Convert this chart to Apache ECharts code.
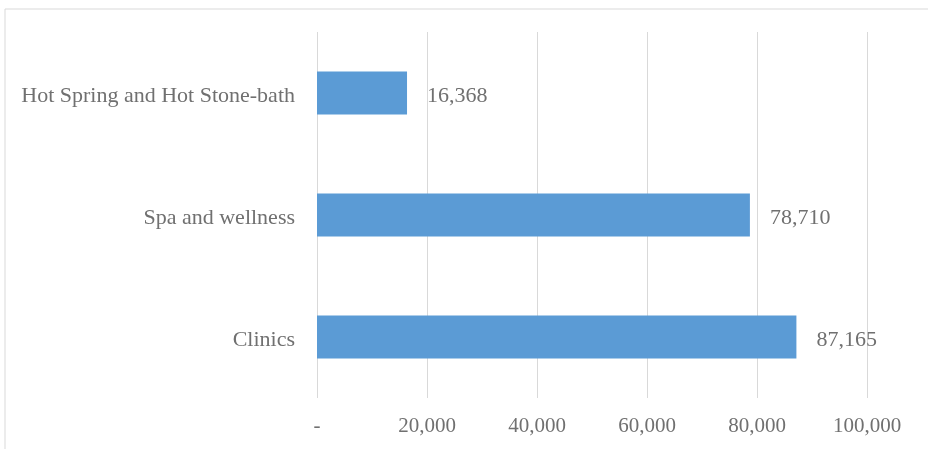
<!DOCTYPE html>
<html><head><meta charset="utf-8">
<script src="https://cdn.jsdelivr.net/npm/echarts@6/dist/echarts.min.js"></script>
<style>html,body{margin:0;padding:0;background:#fff}#c{width:928px;height:449px}</style>
</head><body><div id="c"></div>
<script>
const categories = ['Clinics', 'Spa and wellness', 'Hot Spring and Hot Stone-bath'];
const values = [87165, 78710, 16368];
const xTicks = { min: 0, max: 100000, interval: 20000 };

const font = '"Liberation Serif", "Times New Roman", serif';
const textColor = '#707070';
const chart = echarts.init(document.getElementById('c'), null, { renderer: 'canvas' });
chart.setOption({
  animation: false,
  graphic: [{ type: 'rect', shape: { x: 5, y: 9, width: 940, height: 460 }, style: { fill: 'none', stroke: '#d9d9d9', lineWidth: 1 }, z: -1 }],
  grid: { left: 317, right: 61, top: 32, bottom: 51 },
  xAxis: {
    type: 'value', min: xTicks.min, max: xTicks.max, interval: xTicks.interval,
    axisLine: { show: false }, axisTick: { show: false },
    splitLine: { lineStyle: { color: '#d9d9d9', width: 1 } },
    axisLabel: { fontFamily: font, fontSize: 21, color: textColor, margin: 18,
      formatter: v => v === 0 ? '-' : v.toLocaleString('en-US') }
  },
  yAxis: {
    type: 'category', data: categories,
    axisLine: { show: false }, axisTick: { show: false },
    axisLabel: { fontFamily: font, fontSize: 22, color: textColor, margin: 22,
      formatter: v => '{a|' + v + '}',
      rich: { a: { fontFamily: font, fontSize: 22, color: textColor, padding: [6, 0, 0, 0] } } }
  },
  series: [{
    type: 'bar', data: values, barWidth: 43,
    itemStyle: { color: '#5B9BD5' },
    label: { show: true, position: 'right', distance: 20, offset: [0, 3], fontFamily: font, fontSize: 22, color: textColor,
      formatter: p => p.value.toLocaleString('en-US') }
  }]
});
</script></body></html>
